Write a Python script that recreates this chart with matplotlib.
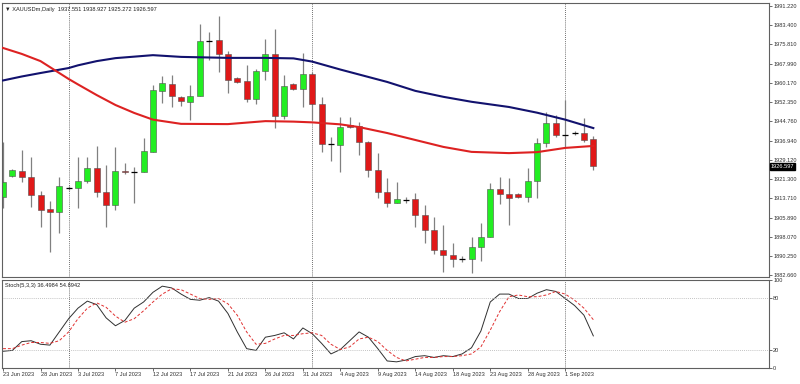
import matplotlib
matplotlib.use("Agg")
import matplotlib.pyplot as plt
import numpy as np
import pandas as pd

plt.rcParams["font.family"] = ["Liberation Sans", "DejaVu Sans"]

# daily bars, broker prints a small Sunday bar and nothing on Saturday
days = pd.date_range("2023-06-23", "2023-09-05", freq="D")
dates = days[days.dayofweek != 5]

opens = [1914.20, 1922.67, 1924.69, 1922.27, 1915.01, 1909.36, 1908.16, 1917.83,
         1917.83, 1920.65, 1925.90, 1916.22, 1910.98, 1924.69, 1924.28, 1924.28,
         1932.35, 1956.95, 1959.77, 1954.53, 1952.51, 1954.93, 1977.11, 1977.51,
         1971.87, 1962.19, 1960.98, 1953.72, 1965.01, 1971.87, 1946.87, 1959.77,
         1957.75, 1963.80, 1951.70, 1935.57, 1935.17, 1943.24, 1942.83, 1936.38,
         1925.09, 1916.22, 1911.78, 1912.99, 1913.40, 1906.95, 1900.90, 1892.83,
         1890.82, 1889.20, 1889.20, 1894.04, 1898.07, 1917.43, 1915.41, 1915.41,
         1914.20, 1920.65, 1935.98, 1944.04, 1939.20, 1940.01, 1940.01, 1937.551]
highs = [1936.38, 1925.49, 1933.16, 1930.33, 1916.62, 1912.59, 1922.27, 1918.64,
         1930.33, 1930.33, 1934.77, 1927.11, 1934.37, 1927.91, 1926.30, 1937.99,
         1959.36, 1962.99, 1963.40, 1954.93, 1959.36, 1983.96, 1980.74, 1987.19,
         1973.07, 1962.59, 1967.43, 1965.82, 1977.91, 1981.95, 1963.40, 1960.17,
         1972.27, 1964.61, 1954.53, 1938.40, 1946.46, 1946.46, 1944.45, 1936.78,
         1931.95, 1921.86, 1920.25, 1914.20, 1915.82, 1910.98, 1906.14, 1902.91,
         1895.66, 1890.41, 1898.07, 1903.72, 1919.85, 1922.27, 1921.86, 1915.82,
         1925.90, 1937.99, 1948.48, 1947.27, 1953.32, 1940.82, 1946.06, 1938.927]
lows = [1909.77, 1922.27, 1920.25, 1910.17, 1902.11, 1892.03, 1899.69, 1917.03,
        1909.77, 1919.85, 1914.20, 1902.11, 1908.96, 1923.48, 1911.78, 1924.28,
        1932.35, 1952.11, 1950.49, 1950.90, 1945.25, 1954.93, 1969.45, 1964.61,
        1956.14, 1960.17, 1952.51, 1951.70, 1961.38, 1942.03, 1945.66, 1957.35,
        1950.49, 1945.25, 1932.35, 1928.72, 1924.28, 1942.03, 1931.14, 1922.27,
        1913.80, 1910.17, 1911.78, 1911.78, 1902.11, 1895.66, 1891.22, 1883.96,
        1885.98, 1887.99, 1883.56, 1888.40, 1898.07, 1911.38, 1902.91, 1913.80,
        1912.19, 1913.80, 1934.37, 1938.40, 1934.37, 1939.20, 1936.38, 1925.272]
closes = [1920.25, 1925.09, 1922.27, 1915.01, 1908.96, 1908.16, 1918.64, 1917.83,
          1920.65, 1925.90, 1916.22, 1910.98, 1924.69, 1924.28, 1924.28, 1932.75,
          1957.35, 1960.17, 1954.93, 1952.91, 1954.93, 1977.11, 1977.11, 1971.87,
          1961.38, 1960.57, 1953.72, 1965.01, 1971.87, 1946.87, 1958.96, 1957.75,
          1963.80, 1951.70, 1935.57, 1935.57, 1942.43, 1942.43, 1936.38, 1925.09,
          1916.22, 1911.78, 1913.40, 1912.99, 1906.95, 1900.90, 1892.83, 1890.82,
          1889.20, 1889.20, 1894.04, 1898.07, 1917.43, 1915.41, 1913.80, 1914.20,
          1920.65, 1935.98, 1944.04, 1939.20, 1939.20, 1940.01, 1937.19, 1926.597]

# moving averages at a few bars
ma_idx = [0, 2, 4, 7, 8, 10, 12, 14, 16, 19, 24, 28, 31, 33, 36, 38, 41, 44, 47, 50, 54, 57, 60, 63]
ma_slow = [1961.2, 1962.8, 1964.2, 1966.2, 1967.3, 1969.0, 1970.2, 1970.8, 1971.4, 1970.7,
           1970.3, 1970.3, 1970.1, 1968.8, 1965.6, 1963.6, 1960.6, 1957.0, 1954.6, 1952.6,
           1950.5, 1948.2, 1945.4, 1942.0]
ma_fast = [1974.3, 1971.9, 1969.0, 1961.8, 1959.6, 1955.3, 1951.3, 1948.1, 1945.4, 1943.7,
           1943.6, 1944.8, 1944.6, 1944.3, 1943.5, 1942.4, 1940.0, 1937.2, 1934.4, 1932.4,
           1931.9, 1932.3, 1934.0, 1934.8]

stoch_k = [19, 20, 30, 31, 27, 26, 41, 56, 68, 76, 72, 57, 48, 54, 68, 75,
           86, 93, 91, 84, 78, 77, 80, 76, 62, 41, 22, 20, 35, 37, 40, 33,
           45.5, 39, 28, 16, 21, 31, 41, 35, 22, 8, 7, 9, 13, 14, 12, 14,
           13, 16, 23, 42, 75, 84, 84, 79, 79, 85, 89, 87, 79, 71, 60, 36.4984]
stoch_d = [22, 22, 26, 29, 29, 28, 31, 41, 56, 68, 74, 69, 59, 52, 56, 65,
           75, 84, 90, 89, 84, 79, 78, 79, 73, 60, 41, 27, 28, 33, 37, 37,
           39, 40, 37, 27, 21, 24, 33, 35, 30, 20, 12, 8, 10, 12, 12, 13,
           13, 14, 16, 24, 43, 64, 81, 83, 81, 81, 83, 87, 84, 77, 68, 54.8942]

price_ticks = [1991.220, 1983.400, 1975.810, 1967.990, 1960.170, 1952.350, 1944.760,
               1936.940, 1929.120, 1921.300, 1913.710, 1905.890, 1898.070, 1890.250, 1882.660]

W, H = 800, 384
FS = 4.1
fig = plt.figure(figsize=(W / 100, H / 100), dpi=100)


def px_axes(l, t, r, b):
	return fig.add_axes([l / W, 1 - b / H, (r - l) / W, (b - t) / H])


ax = px_axes(2, 3, 769, 277)
ax2 = px_axes(2, 280, 769, 368)

x = np.arange(len(closes))
o, h, l, c = map(np.array, (opens, highs, lows, closes))
up = c > o
down = c < o
flat = c == o
bw = 0.64

ax.vlines(x, l, h, color="#808080", lw=0.9, zorder=1)
ax.bar(x[up], (c - o)[up], bottom=o[up], width=bw, color="#22ee22",
       edgecolor="#505050", lw=0.4, zorder=2)
ax.bar(x[down], (o - c)[down], bottom=c[down], width=bw, color="#e01818",
       edgecolor="#505050", lw=0.4, zorder=2)
ax.hlines(c[flat], x[flat] - bw / 2, x[flat] + bw / 2, color="black", lw=0.9, zorder=2)

ax.plot(ma_idx, ma_slow, color="#12126e", lw=1.5, zorder=3, solid_joinstyle="round")
ax.plot(ma_idx, ma_fast, color="#dd2222", lw=1.5, zorder=3, solid_joinstyle="round")

xlim = (-0.11, 81.75)
ax.set_xlim(*xlim)
ax.set_ylim(1881.95, 1992.43)
ax.set_xticks([])
ax.yaxis.tick_right()
ax.set_yticks(price_ticks)
ax.set_yticklabels([f"{v:.3f}" for v in price_ticks])

ohlc = " ".join(f"{v:.3f}" for v in (opens[-1], highs[-1], lows[-1], closes[-1]))
ax.text(0.004, 0.985, "\u25bc XAUUSDm,Daily  " + ohlc,
        transform=ax.transAxes, ha="left", va="top", fontsize=FS, color="#202020")
ax.text(1.002, closes[-1], f"{closes[-1]:.3f}", transform=ax.get_yaxis_transform(),
        ha="left", va="center", fontsize=FS, color="white", zorder=5, clip_on=False,
        bbox=dict(boxstyle="square,pad=0.15", fc="black", ec="black"))

# stochastic panel
ax2.plot(x, stoch_k, color="#303030", lw=0.7)
ax2.plot(x, stoch_d, color="#e03030", lw=0.7, ls=(0, (3, 2)))
for lvl in (20, 80):
	ax2.axhline(lvl, color="#b0b0b0", lw=0.6, ls=(0, (1, 1.5)))
ax2.set_xlim(*xlim)
ax2.set_ylim(0, 100)
ax2.yaxis.tick_right()
ax2.set_yticks([0, 20, 80, 100])
ax2.text(0.004, 0.97, f"Stoch(5,3,3) {stoch_k[-1]:.4f} {stoch_d[-1]:.4f}",
         transform=ax2.transAxes, ha="left", va="top", fontsize=FS, color="#202020")

ax2.set_xticks(x[::4])
ax2.set_xticklabels([f"{d.day} {d:%b %Y}" for d in dates[::4]], ha="left")

# dotted separators at the first bar of each month
month_start = [i for i in range(1, len(dates)) if dates[i].month != dates[i - 1].month]
for a in (ax, ax2):
	for i in month_start:
		a.axvline(i, color="#404040", lw=0.6, ls=(0, (1, 1.5)), zorder=0)
	a.tick_params(labelsize=FS, length=2, width=0.5, pad=1, colors="#303030")
	for s in a.spines.values():
		s.set_color("#606060")
		s.set_linewidth(0.8)

fig.savefig("out.png", dpi=100, facecolor="white")
